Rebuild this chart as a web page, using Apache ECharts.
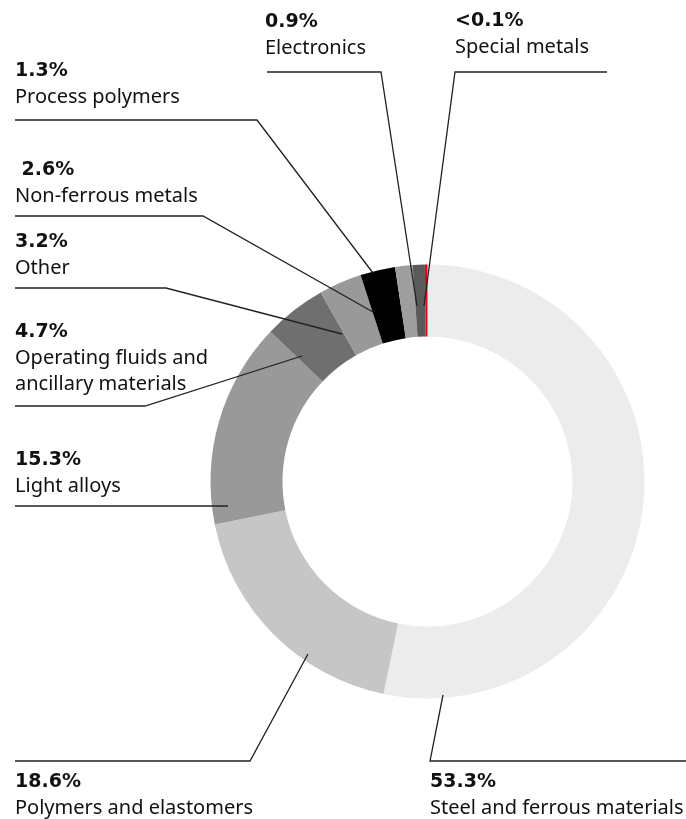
<!DOCTYPE html>
<html>
<head>
<meta charset="utf-8">
<script src="https://cdn.jsdelivr.net/npm/echarts@6/dist/echarts.min.js"></script>
<style>
html,body{margin:0;padding:0;background:#fff;}
#chart{width:686px;height:819px;}
</style>
</head>
<body>
<div id="chart"></div>
<script>
// Data (clockwise from 12 o'clock)
var categories = ['Steel and ferrous materials', 'Polymers and elastomers', 'Light alloys',
  'Operating fluids and\nancillary materials', 'Other', 'Non-ferrous metals',
  'Process polymers', 'Electronics', 'Special metals'];
var values = [53.3, 18.6, 15.3, 4.7, 3.2, 2.6, 1.3, 0.9, 0.1];
var valueLabels = ['53.3%', '18.6%', '15.3%', '4.7%', '3.2%', ' 2.6%', '1.3%', '0.9%', '<0.1%'];
var colors = ['#ececec', '#c6c6c6', '#999999', '#6f6f6f', '#999999', '#000000', '#9e9e9e', '#5a5a5a', '#e3001b'];

// Label layout (annotation positions): text top-left and leader line points
var labelPos = [
  {x: 430, y: 769},   // steel
  {x: 15, y: 769},    // polymers
  {x: 15, y: 447},    // light alloys
  {x: 15, y: 319},    // operating fluids
  {x: 15, y: 229},    // other
  {x: 15, y: 157},    // non-ferrous
  {x: 15, y: 58},     // process polymers
  {x: 265, y: 9},     // electronics
  {x: 455, y: 8}      // special metals
];
var leaderLines = [
  [[443, 695], [430, 761], [686, 761]],
  [[308, 654], [250, 761], [15, 761]],
  [[228, 506], [228, 506], [15, 506]],
  [[302, 356], [145, 406], [15, 406]],
  [[342, 334], [166, 288], [15, 288]],
  [[373, 312], [203, 216], [15, 216]],
  [[373, 273], [257, 120], [15, 120]],
  [[417, 306], [381, 72], [267, 72]],
  [[424, 306], [455, 72], [607, 72]]
];

var chart = echarts.init(document.getElementById('chart'), null, {renderer: 'canvas'});
var ringData = categories.map(function (c, i) {
  return {name: c, value: values[i], itemStyle: {color: colors[i]}};
});
var labelData = categories.map(function (c, i) {
  return {name: c, value: values[i], itemStyle: {color: 'rgba(0,0,0,0)'}};
});

var common = {
  type: 'pie',
  center: [427.5, 481.5],
  radius: [145, 217],
  startAngle: 90,
  clockwise: true,
  minAngle: 0.7,
  avoidLabelOverlap: false,
  silent: true
};

chart.setOption({
  animation: false,
  backgroundColor: '#fff',
  series: [
    Object.assign({}, common, {
      z: 2,
      data: ringData,
      label: {show: false},
      labelLine: {show: false}
    }),
    Object.assign({}, common, {
      z: 5,
      data: labelData,
      label: {
        show: true,
        position: 'outside',
        formatter: function (p) {
          return '{p|' + valueLabels[p.dataIndex] + '}\n{n|' + p.name.split('\n').join('}\n{n|') + '}';
        },
        rich: {
          p: {fontFamily: 'DejaVu Sans', fontWeight: 'bold', fontSize: 19, color: '#111', lineHeight: 26},
          n: {fontFamily: 'Noto Sans', fontSize: 20, color: '#111', lineHeight: 26}
        }
      },
      labelLine: {
        show: true,
        lineStyle: {color: '#222', width: 1.3}
      },
      labelLayout: function (params) {
        var i = params.dataIndex;
        return {
          x: labelPos[i].x,
          y: labelPos[i].y,
          align: 'left',
          verticalAlign: 'top',
          labelLinePoints: leaderLines[i]
        };
      }
    })
  ]
});
</script>
</body>
</html>
